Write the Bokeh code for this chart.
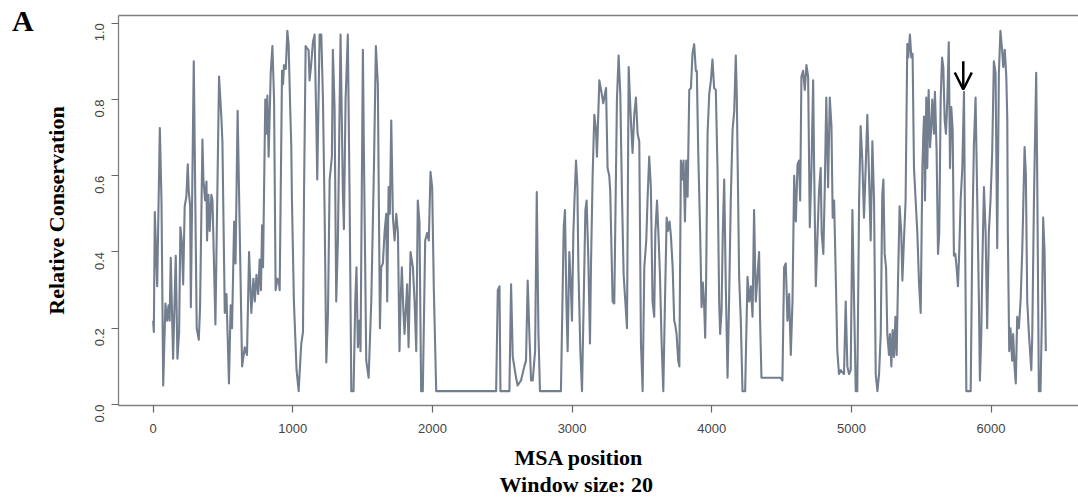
import math
from bokeh.plotting import figure
from bokeh.layouts import row
from bokeh.models import (Range1d, FixedTicker, NumeralTickFormatter, Arrow, OpenHead,
                          ColumnDataSource, Title, LinearAxis, Div)
from bokeh.embed import file_html
from bokeh.resources import INLINE

# ---- data ----
msa_position = [
    0, 5, 12, 29, 48, 60, 72, 88, 100, 110, 118, 126, 143, 162, 174, 186, 195, 205, 215, 226,
    238, 248, 255, 265, 270, 291, 312, 327, 336, 353, 360, 372, 382, 386, 396, 405, 417, 425, 446, 472,
    489, 496, 513, 525, 543, 555, 565, 580, 590, 605, 637, 656, 672, 687, 703, 718, 728, 740, 752, 763,
    772, 780, 787, 803, 813, 818, 827, 842, 854, 866, 877, 890, 901, 906, 923, 930, 937, 950, 961, 970,
    982, 989, 994, 1008, 1027, 1042, 1056, 1061, 1073, 1080, 1092, 1100, 1113, 1120, 1130, 1144, 1156, 1168, 1175, 1192,
    1204, 1216, 1228, 1240, 1252, 1264, 1280, 1287, 1299, 1311, 1323, 1342, 1359, 1366, 1378, 1394, 1407, 1419, 1435, 1447,
    1456, 1466, 1478, 1485, 1502, 1509, 1526, 1543, 1562, 1581, 1595, 1609, 1624, 1633, 1645, 1657, 1669, 1676, 1686, 1695,
    1705, 1717, 1729, 1741, 1753, 1764, 1772, 1781, 1791, 1800, 1819, 1829, 1843, 1860, 1872, 1884, 1895, 1907, 1919, 1931,
    1948, 1962, 1974, 1986, 1998, 2010, 2027, 2456, 2468, 2480, 2487, 2551, 2563, 2575, 2599, 2610, 2634, 2658, 2670, 2682,
    2694, 2706, 2718, 2735, 2747, 2759, 2770, 2920, 2940, 2949, 2959, 2968, 2980, 2992, 2999, 3009, 3016, 3028, 3038, 3045,
    3059, 3071, 3083, 3095, 3104, 3116, 3128, 3135, 3147, 3159, 3171, 3178, 3195, 3212, 3223, 3243, 3254, 3266, 3273, 3290,
    3302, 3321, 3333, 3345, 3357, 3369, 3381, 3393, 3405, 3421, 3433, 3445, 3457, 3469, 3481, 3493, 3505, 3517, 3531, 3540,
    3552, 3564, 3576, 3588, 3596, 3608, 3620, 3629, 3641, 3653, 3665, 3677, 3686, 3698, 3708, 3720, 3731, 3738, 3748, 3760,
    3768, 3779, 3791, 3798, 3808, 3817, 3827, 3839, 3851, 3862, 3874, 3886, 3893, 3903, 3917, 3927, 3936, 3946, 3953, 3960,
    3970, 3982, 3994, 4005, 4017, 4029, 4041, 4053, 4060, 4070, 4079, 4089, 4101, 4113, 4124, 4136, 4149, 4161, 4172, 4179,
    4189, 4196, 4208, 4220, 4239, 4256, 4268, 4280, 4292, 4303, 4315, 4327, 4339, 4346, 4356, 4494, 4506, 4518, 4530, 4542,
    4554, 4566, 4578, 4590, 4602, 4614, 4625, 4633, 4642, 4654, 4666, 4678, 4690, 4702, 4714, 4726, 4733, 4745, 4757, 4768,
    4780, 4787, 4799, 4809, 4820, 4833, 4845, 4857, 4866, 4876, 4888, 4899, 4911, 4923, 4947, 4959, 4971, 4983, 4995, 5007,
    5019, 5031, 5042, 5055, 5066, 5078, 5090, 5102, 5114, 5126, 5138, 5150, 5162, 5174, 5186, 5198, 5210, 5221, 5229, 5238,
    5248, 5257, 5269, 5276, 5286, 5295, 5305, 5315, 5324, 5333, 5345, 5357, 5365, 5376, 5388, 5400, 5407, 5419, 5429, 5438,
    5448, 5460, 5472, 5484, 5496, 5508, 5515, 5520, 5527, 5536, 5543, 5553, 5563, 5572, 5579, 5591, 5598, 5610, 5620, 5629,
    5639, 5649, 5658, 5668, 5677, 5687, 5697, 5706, 5715, 5725, 5734, 5744, 5753, 5763, 5772, 5782, 5794, 5806, 5813, 5823,
    5854, 5866, 5877, 5889, 5901, 5913, 5920, 5930, 5937, 5949, 5961, 5972, 5984, 5996, 6008, 6020, 6032, 6044, 6056, 6067,
    6079, 6087, 6098, 6109, 6116, 6120, 6130, 6139, 6151, 6158, 6168, 6177, 6187, 6199, 6211, 6223, 6240, 6249, 6259, 6271,
    6288, 6295, 6307, 6323, 6330, 6342, 6354, 6366, 6373, 6383, 6392,
]
relative_conservation = [
    0.22, 0.19, 0.505, 0.31, 0.725, 0.53, 0.05, 0.265, 0.22, 0.26, 0.22, 0.385, 0.12, 0.39, 0.12, 0.19, 0.465, 0.43, 0.315, 0.52,
    0.545, 0.63, 0.56, 0.52, 0.255, 0.90, 0.20, 0.17, 0.255, 0.695, 0.59, 0.535, 0.585, 0.43, 0.55, 0.455, 0.55, 0.535, 0.21, 0.86,
    0.75, 0.69, 0.24, 0.29, 0.055, 0.26, 0.20, 0.48, 0.37, 0.77, 0.10, 0.15, 0.13, 0.40, 0.24, 0.33, 0.27, 0.34, 0.29, 0.38,
    0.30, 0.47, 0.36, 0.80, 0.71, 0.81, 0.65, 0.87, 0.94, 0.80, 0.30, 0.33, 0.32, 0.30, 0.875, 0.84, 0.89, 0.88, 0.98, 0.945,
    0.77, 0.68, 0.535, 0.27, 0.09, 0.035, 0.13, 0.16, 0.19, 0.535, 0.94, 0.935, 0.93, 0.85, 0.885, 0.95, 0.97, 0.75, 0.59, 0.97,
    0.97, 0.80, 0.50, 0.11, 0.24, 0.59, 0.65, 0.93, 0.78, 0.27, 0.43, 0.97, 0.55, 0.46, 0.80, 0.97, 0.535, 0.035, 0.035, 0.265,
    0.36, 0.15, 0.22, 0.14, 0.93, 0.67, 0.115, 0.07, 0.27, 0.62, 0.94, 0.84, 0.20, 0.36, 0.37, 0.45, 0.50, 0.27, 0.57, 0.50,
    0.745, 0.49, 0.43, 0.50, 0.45, 0.14, 0.27, 0.36, 0.255, 0.185, 0.315, 0.15, 0.40, 0.36, 0.27, 0.14, 0.535, 0.48, 0.035, 0.035,
    0.43, 0.45, 0.43, 0.61, 0.57, 0.30, 0.035, 0.035, 0.30, 0.31, 0.035, 0.035, 0.315, 0.125, 0.07, 0.05, 0.063, 0.10, 0.115, 0.325,
    0.185, 0.063, 0.063, 0.14, 0.557, 0.185, 0.035, 0.035, 0.465, 0.51, 0.27, 0.14, 0.40, 0.30, 0.22, 0.45, 0.525, 0.64, 0.57, 0.36,
    0.14, 0.035, 0.27, 0.51, 0.535, 0.385, 0.16, 0.36, 0.60, 0.76, 0.72, 0.65, 0.85, 0.815, 0.79, 0.83, 0.62, 0.60, 0.56, 0.27,
    0.265, 0.80, 0.915, 0.815, 0.55, 0.34, 0.27, 0.20, 0.885, 0.745, 0.66, 0.76, 0.805, 0.71, 0.69, 0.16, 0.035, 0.36, 0.43, 0.535,
    0.65, 0.57, 0.27, 0.23, 0.45, 0.535, 0.43, 0.34, 0.16, 0.035, 0.27, 0.49, 0.455, 0.48, 0.44, 0.36, 0.22, 0.21, 0.185, 0.115,
    0.10, 0.64, 0.59, 0.64, 0.48, 0.64, 0.545, 0.825, 0.83, 0.92, 0.945, 0.875, 0.875, 0.665, 0.45, 0.255, 0.32, 0.255, 0.175, 0.335,
    0.71, 0.815, 0.85, 0.905, 0.83, 0.825, 0.62, 0.27, 0.185, 0.245, 0.45, 0.59, 0.30, 0.07, 0.27, 0.535, 0.72, 0.77, 0.915, 0.815,
    0.535, 0.335, 0.22, 0.035, 0.035, 0.335, 0.27, 0.31, 0.23, 0.51, 0.27, 0.335, 0.40, 0.22, 0.07, 0.07, 0.063, 0.36, 0.37, 0.22,
    0.29, 0.13, 0.27, 0.60, 0.48, 0.63, 0.64, 0.535, 0.86, 0.875, 0.825, 0.89, 0.86, 0.465, 0.62, 0.85, 0.62, 0.31, 0.44, 0.56,
    0.62, 0.45, 0.395, 0.565, 0.805, 0.57, 0.805, 0.73, 0.49, 0.535, 0.335, 0.14, 0.08, 0.09, 0.08, 0.27, 0.10, 0.08, 0.09, 0.51,
    0.27, 0.035, 0.035, 0.535, 0.73, 0.64, 0.49, 0.62, 0.76, 0.60, 0.43, 0.69, 0.535, 0.08, 0.035, 0.08, 0.185, 0.55, 0.59, 0.395,
    0.36, 0.185, 0.13, 0.185, 0.10, 0.195, 0.125, 0.23, 0.13, 0.31, 0.52, 0.45, 0.325, 0.43, 0.535, 0.945, 0.91, 0.97, 0.91, 0.92,
    0.62, 0.535, 0.45, 0.32, 0.24, 0.62, 0.71, 0.755, 0.535, 0.805, 0.62, 0.825, 0.675, 0.73, 0.80, 0.71, 0.82, 0.665, 0.395, 0.45,
    0.80, 0.91, 0.885, 0.745, 0.71, 0.80, 0.95, 0.62, 0.78, 0.72, 0.39, 0.395, 0.36, 0.31, 0.40, 0.535, 0.62, 0.82, 0.49, 0.035,
    0.035, 0.45, 0.68, 0.805, 0.535, 0.27, 0.063, 0.185, 0.36, 0.57, 0.45, 0.20, 0.45, 0.535, 0.66, 0.90, 0.87, 0.41, 0.87, 0.98,
    0.93, 0.885, 0.93, 0.86, 0.75, 0.45, 0.14, 0.20, 0.115, 0.185, 0.10, 0.055, 0.23, 0.20, 0.27, 0.40, 0.675, 0.605, 0.27, 0.185,
    0.09, 0.185, 0.535, 0.87, 0.62, 0.035, 0.035, 0.27, 0.49, 0.40, 0.14,
]
x_ticks = [0, 1000, 2000, 3000, 4000, 5000, 6000]
y_ticks = [0.0, 0.2, 0.4, 0.6, 0.8, 1.0]
arrow_position = 5801
arrow_top, arrow_tip = 0.90, 0.826

x_label = "MSA position"
x_sublabel = "Window size: 20"
y_label = "Relative Conservation"
panel_letter = "A"

LINE_COLOR = "#737e8f"
FRAME_COLOR = "#808080"
SERIF = "Liberation Serif"
LETTER_W = 40

p = figure(width=1078 - LETTER_W, height=502, output_backend="svg", toolbar_location=None,
           x_range=Range1d(-248, 6626), y_range=Range1d(-0.0026, 1.0202),
           min_border_left=117 - LETTER_W, min_border_right=0, min_border_top=15, min_border_bottom=97)
p.background_fill_color = "white"
p.border_fill_color = "white"
p.outline_line_color = None
p.grid.visible = False

bottom_axis = p.below[0]
left_axis = p.left[0]

src = ColumnDataSource(dict(x=msa_position, y=relative_conservation))
p.line("x", "y", source=src, line_color=LINE_COLOR, line_width=2.1, line_join="round")

# top border of the box, drawn as a bare axis line
top_axis = LinearAxis(ticker=FixedTicker(ticks=[]), major_label_text_font_size="0px",
                      major_label_standoff=0, major_tick_out=0, major_tick_in=0,
                      axis_line_color=FRAME_COLOR, axis_line_width=1.3,
                      major_tick_line_color=None, minor_tick_line_color=None)
p.add_layout(top_axis, "above")

for ax in (bottom_axis, left_axis):
    ax.axis_line_color = FRAME_COLOR
    ax.axis_line_width = 1.3
    ax.major_tick_line_color = "#666666"
    ax.major_tick_line_width = 1.2
    ax.major_tick_out = 7
    ax.major_tick_in = 0
    ax.minor_tick_line_color = None
    ax.major_label_text_font = "Liberation Sans"
    ax.major_label_text_font_size = "13px"
    ax.major_label_text_color = "#444444"

bottom_axis.ticker = FixedTicker(ticks=x_ticks)
bottom_axis.major_label_standoff = 11
left_axis.ticker = FixedTicker(ticks=y_ticks)
left_axis.formatter = NumeralTickFormatter(format="0.0")
left_axis.major_label_orientation = math.pi / 2
left_axis.major_label_standoff = 12
left_axis.axis_label = y_label
left_axis.axis_label_text_font = SERIF
left_axis.axis_label_text_font_style = "bold"
left_axis.axis_label_text_font_size = "22px"
left_axis.axis_label_text_color = "black"
left_axis.axis_label_standoff = 19

spacer = Title(text=" ", text_font_size="1px", standoff=4)
t1 = Title(text=x_label, align="left", offset=396, text_font=SERIF, text_font_style="bold",
           text_font_size="22px", text_color="black", standoff=0)
t2 = Title(text=x_sublabel, align="left", offset=381, text_font=SERIF, text_font_style="bold",
           text_font_size="22px", text_color="black", standoff=0)
p.add_layout(spacer, "below")
p.add_layout(t1, "below")
p.add_layout(t2, "below")

p.add_layout(Arrow(x_start=arrow_position, y_start=arrow_top, x_end=arrow_position, y_end=arrow_tip,
                   line_color="black", line_width=2.5,
                   end=OpenHead(size=17, line_color="black", line_width=2.5)))

letter = Div(text=panel_letter, width=LETTER_W, height=502, margin=0,
             styles={"font-family": "'Liberation Serif'", "font-weight": "bold", "font-size": "30px",
                     "line-height": "30px", "padding-left": "12px", "padding-top": "6px",
                     "box-sizing": "border-box", "color": "black"})

layout = row(letter, p, spacing=0)
open("out.html", "w").write(file_html(layout, INLINE))
